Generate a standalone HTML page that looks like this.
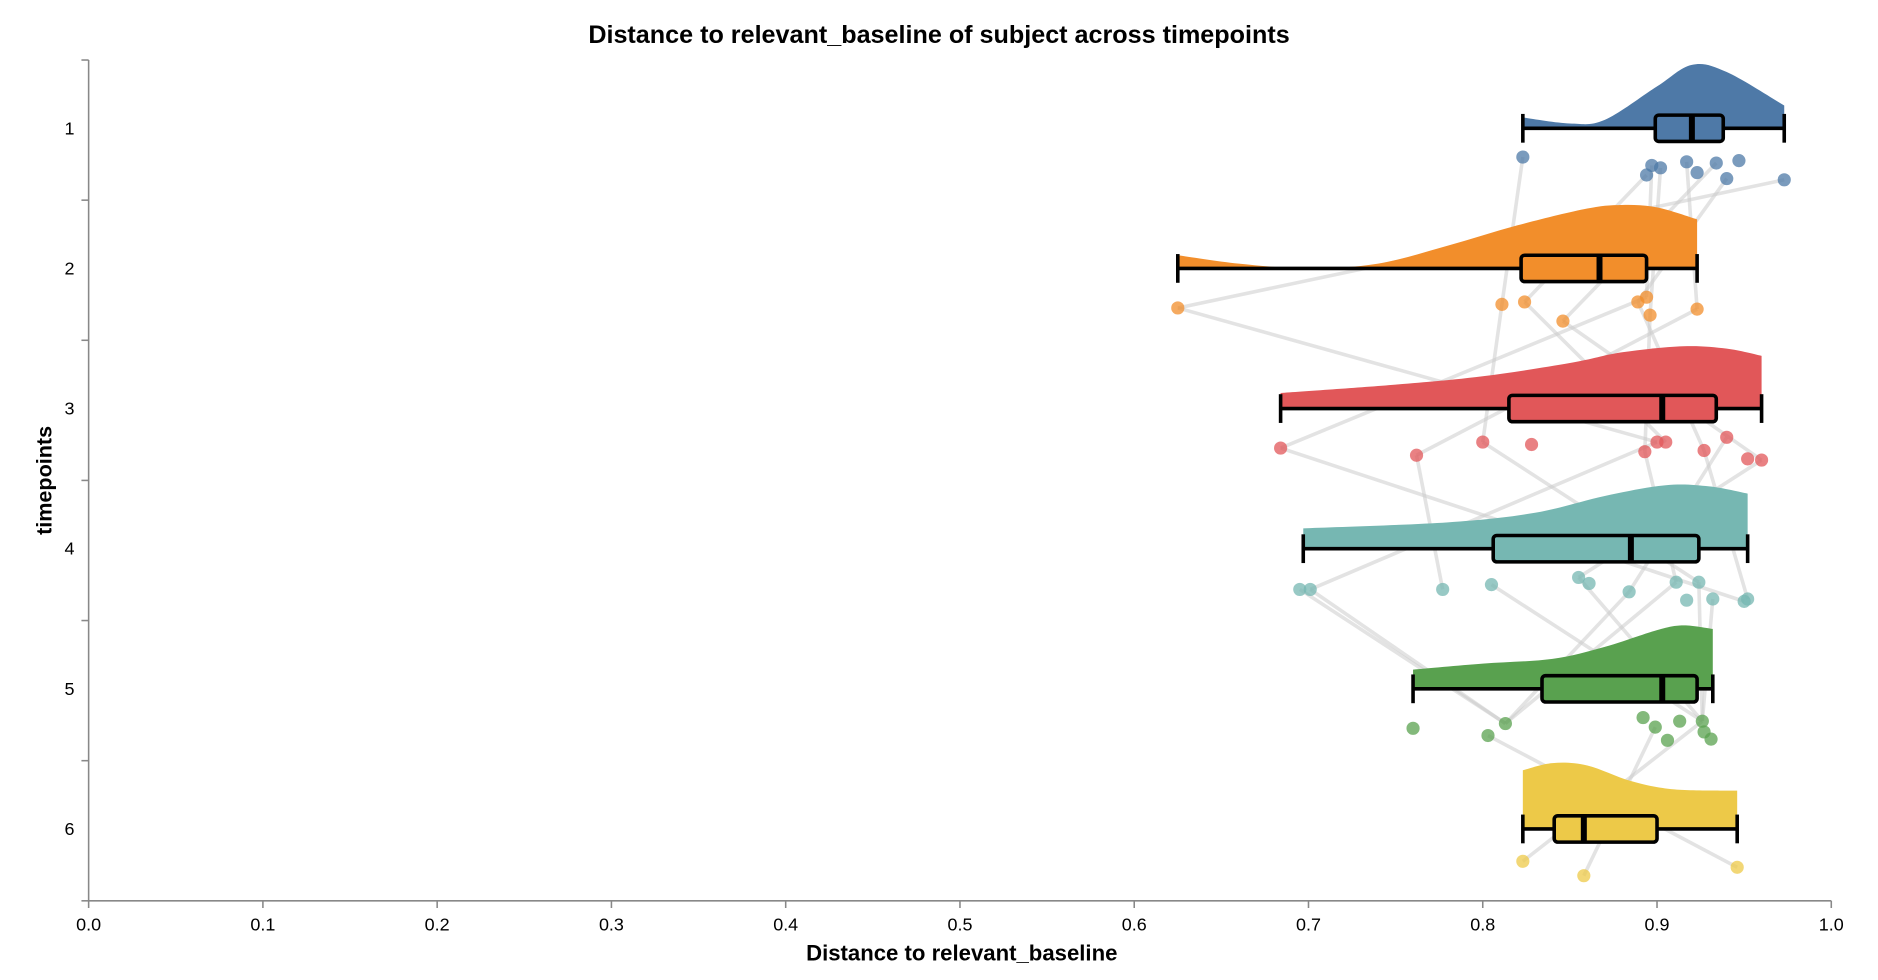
<!DOCTYPE html>
<html><head><meta charset="utf-8"><style>
html,body{margin:0;padding:0;background:#fff;}
svg{display:block;font-family:"Liberation Sans",Arial,sans-serif;}
</style></head><body>
<svg id="s" width="1878" height="980" viewBox="0 0 1568 818" xmlns="http://www.w3.org/2000/svg">
<text x="784" y="36" text-anchor="middle" font-size="21" font-weight="bold">Distance to relevant_baseline of subject across timepoints</text>
<text x="803" y="802" text-anchor="middle" font-size="18.5" font-weight="bold">Distance to relevant_baseline</text>
<text transform="translate(43,401) rotate(-90)" text-anchor="middle" font-size="18" font-weight="bold">timepoints</text>
<g id="lines" stroke="#ccc" stroke-opacity="0.55" stroke-width="3" fill="none"></g>
<g id="main"></g>
<g id="axes" stroke="#888" stroke-width="1.3"></g>
</svg>
<script>
const NS="http://www.w3.org/2000/svg";
const px=v=>74+1455*v;
function el(p,t,a,txt){const e=document.createElementNS(NS,t);for(const k in a)e.setAttribute(k,a[k]);if(txt!=null)e.textContent=txt;p.appendChild(e);return e;}
const S=document.getElementById('s'),M=document.getElementById('main'),A=document.getElementById('axes'),L=document.getElementById('lines');
el(A,'line',{x1:74,y1:752,x2:1529,y2:752});
el(A,'line',{x1:74,y1:50,x2:74,y2:752});
for(let i=0;i<=10;i++){const x=px(i/10);el(A,'line',{x1:x,y1:752,x2:x,y2:758});el(S,'text',{x:x,y:777,'text-anchor':'middle','font-size':15},(i/10).toFixed(1));}
for(let i=0;i<7;i++){const y=50+117*i;el(A,'line',{x1:68,y1:y,x2:74,y2:y});}
for(let i=0;i<6;i++){el(S,'text',{x:58,y:107+117*i+5,'text-anchor':'middle','font-size':15},String(i+1));}
const G=[
{c:'#4e79a7',w:[.823,.973],b:[.899,.938],m:.920,v:[[.823,98],[.85,103],[.87,100],[.9,72],[.92,54],[.94,60],[.973,88]],
 p:[[.823,131],[.894,146],[.897,138],[.902,140],[.917,135],[.923,144],[.934,136],[.94,149],[.947,134],[.973,150]]},
{c:'#f28e2b',w:[.625,.923],b:[.822,.894],m:.867,v:[[.625,213],[.66,220],[.7,224],[.74,220],[.78,205],[.82,188],[.86,174],[.88,171],[.9,173],[.923,183]],
 p:[[.625,257],[.811,254],[.824,252],[.846,268],[.889,252],[.894,248],[.896,263],[.923,258]]},
{c:'#e15759',w:[.684,.960],b:[.815,.934],m:.903,v:[[.684,328],[.75,321],[.8,314],[.85,303],[.88,294],[.915,289],[.94,291],[.96,297]],
 p:[[.684,374],[.762,380],[.80,369],[.828,371],[.893,377],[.90,369],[.905,369],[.927,376],[.94,365],[.952,383],[.96,384]]},
{c:'#76b7b2',w:[.697,.952],b:[.806,.924],m:.885,v:[[.697,441],[.78,436],[.83,428],[.87,414],[.905,405],[.93,406],[.952,412]],
 p:[[.695,492],[.701,492],[.777,492],[.805,488],[.855,482],[.861,487],[.884,494],[.911,486],[.917,501],[.924,486],[.932,500],[.95,502],[.952,500]]},
{c:'#59a14f',w:[.760,.932],b:[.834,.923],m:.903,v:[[.76,559],[.8,554],[.84,550],[.87,540],[.9,526],[.915,522],[.932,525]],
 p:[[.76,608],[.803,614],[.813,604],[.892,599],[.899,607],[.906,618],[.913,602],[.926,602],[.927,611],[.931,617]]},
{c:'#edc948',w:[.823,.946],b:[.841,.900],m:.858,v:[[.823,643],[.84,637],[.86,639],[.885,652],[.91,659],[.946,660]],
 p:[[.823,719],[.858,731],[.946,724]]}
];
for(let g=0;g<5;g++){const a=G[g].p,b=G[g+1].p;const n=Math.min(a.length,b.length,8);
 for(let i=0;i<n;i++){const p=a[(i*3+1)%a.length],q=b[(i*5+2)%b.length];el(L,'line',{x1:px(p[0]),y1:p[1],x2:px(q[0]),y2:q[1]});}}
function smooth(pts){let d=`M${pts[0][0]},${pts[0][1]}`;for(let i=0;i<pts.length-1;i++){const p0=pts[Math.max(0,i-1)],p1=pts[i],p2=pts[i+1],p3=pts[Math.min(pts.length-1,i+2)];
 const c1=[p1[0]+(p2[0]-p0[0])/6,p1[1]+(p2[1]-p0[1])/6],c2=[p2[0]-(p3[0]-p1[0])/6,p2[1]-(p3[1]-p1[1])/6];
 d+=`C${c1[0]},${c1[1]} ${c2[0]},${c2[1]} ${p2[0]},${p2[1]}`;}return d;}
G.forEach((g,i)=>{const cy=107+117*i;
 const pts=g.v.map(q=>[px(q[0]),q[1]]);
 el(M,'path',{d:smooth(pts)+`L${px(g.w[1])},${cy}L${px(g.w[0])},${cy}Z`,fill:g.c});
 el(M,'line',{x1:px(g.w[0]),y1:cy,x2:px(g.w[1]),y2:cy,stroke:'#000','stroke-width':3});
 [g.w[0],g.w[1]].forEach(v=>el(M,'line',{x1:px(v),y1:cy-12,x2:px(v),y2:cy+12,stroke:'#000','stroke-width':3}));
 el(M,'rect',{x:px(g.b[0]),y:cy-11,width:px(g.b[1])-px(g.b[0]),height:22,rx:3,fill:g.c,stroke:'#000','stroke-width':3});
 el(M,'line',{x1:px(g.m),y1:cy-11,x2:px(g.m),y2:cy+11,stroke:'#000','stroke-width':5});
 g.p.forEach(q=>el(M,'circle',{cx:px(q[0]),cy:q[1],r:5.5,fill:g.c,'fill-opacity':0.75}));
});
</script>
</body></html>
